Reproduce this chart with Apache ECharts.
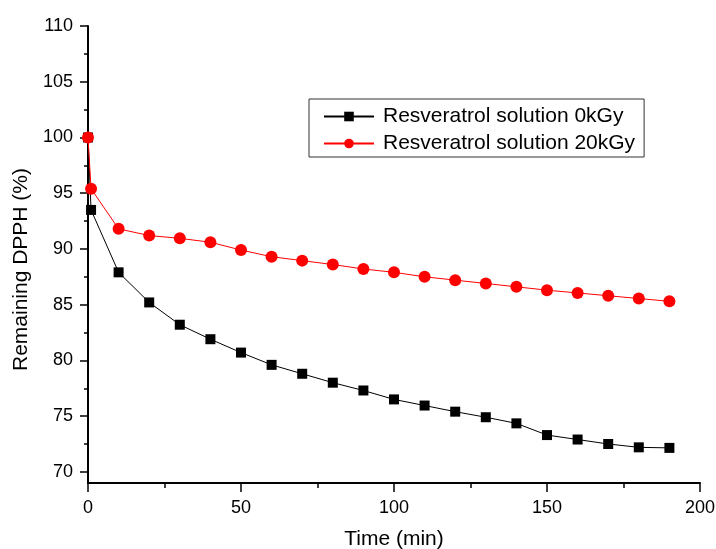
<!DOCTYPE html>
<html>
<head>
<meta charset="utf-8">
<script src="https://cdn.jsdelivr.net/npm/echarts@6/dist/echarts.min.js"></script>
<style>
    html, body {margin: 0; padding: 0; background: #fff;}
    #chart {width: 716px; height: 549px;}
</style>
</head>
<body>
<div id="chart"></div>
<script>
// 时间 (min)
var times = [0, 1, 10, 20, 30, 40, 50, 60, 70, 80, 90, 100, 110, 120, 130, 140, 150, 160, 170, 180, 190];
// 0kGy
var dpph0 = [100, 93.5, 87.9, 85.2, 83.2, 81.9, 80.7, 79.6, 78.8, 78.0, 77.3, 76.5, 75.95, 75.4, 74.9, 74.35, 73.3, 72.9, 72.5, 72.2, 72.15];
// 20kGy
var dpph20 = [100, 95.4, 91.8, 91.2, 90.95, 90.6, 89.9, 89.3, 88.95, 88.6, 88.2, 87.9, 87.5, 87.2, 86.9, 86.6, 86.3, 86.05, 85.8, 85.55, 85.3];
var yMajor = [70, 75, 80, 85, 90, 95, 100, 105, 110];
var yMinor = [72.5, 77.5, 82.5, 87.5, 92.5, 97.5, 102.5, 107.5];
var seriesNames = ['Resveratrol solution 0kGy', 'Resveratrol solution 20kGy'];

function pairs(xs, ys) {
    return xs.map(function (x, i) { return [x, ys[i]]; });
}

var font = "'Liberation Sans', Arial, sans-serif";
var chart = echarts.init(document.getElementById('chart'));

var option = {
    backgroundColor: '#fff',
    animation: false,
    textStyle: {fontFamily: font},
    grid: {left: 88, right: 16, top: 26, bottom: 66, containLabel: false, outerBoundsMode: 'none'},
    legend: {
        orient: 'vertical',
        left: 309,
        top: 99,
        padding: [7, 9, 3, 14],
        itemWidth: 50,
        itemHeight: 12,
        itemGap: 6,
        borderColor: '#333',
        borderWidth: 1,
        textStyle: {fontFamily: font, fontSize: 21, color: '#000', lineHeight: 21, padding: [0, 0, 0, 4]},
        data: seriesNames
    },
    xAxis: {
        type: 'value',
        min: 0,
        max: 200,
        interval: 50,
        name: 'Time (min)',
        nameLocation: 'middle',
        nameGap: 46,
        nameTextStyle: {fontFamily: font, fontSize: 21, color: '#000'},
        axisLine: {show: true, onZero: false, lineStyle: {color: '#000', width: 2}},
        axisTick: {show: true, inside: false, length: 9, lineStyle: {color: '#000', width: 1.5}},
        minorTick: {show: true, splitNumber: 2, length: 5, lineStyle: {color: '#000', width: 1.5}},
        axisLabel: {fontFamily: font, fontSize: 18, color: '#000', margin: 16},
        splitLine: {show: false}
    },
    yAxis: [{
        type: 'value',
        min: 69,
        max: 110,
        name: 'Remaining DPPH (%)',
        nameLocation: 'middle',
        nameGap: 55,
        nameRotate: 90,
        nameTextStyle: {fontFamily: font, fontSize: 21, color: '#000', padding: [0, 30, 0, 0]},
        axisLine: {show: true, onZero: false, lineStyle: {color: '#000', width: 2}},
        axisTick: {show: true, inside: false, length: 8, customValues: yMajor, lineStyle: {color: '#000', width: 1.5}},
        axisLabel: {fontFamily: font, fontSize: 18, color: '#000', margin: 15, customValues: yMajor},
        splitLine: {show: false}
    }, {
        type: 'value',
        min: 69,
        max: 110,
        position: 'left',
        axisLine: {show: false},
        axisTick: {show: true, inside: false, length: 4, customValues: yMinor, lineStyle: {color: '#000', width: 1.5}},
        axisLabel: {show: false},
        splitLine: {show: false}
    }],
    series: [{
        name: seriesNames[0],
        type: 'line',
        data: pairs(times, dpph0),
        symbol: 'rect',
        symbolSize: 10,
        itemStyle: {color: '#000'},
        lineStyle: {color: '#000', width: 1}
    }, {
        name: seriesNames[1],
        type: 'line',
        data: pairs(times, dpph20),
        symbol: 'circle',
        symbolSize: 12,
        itemStyle: {color: '#ff0000'},
        lineStyle: {color: '#ff0000', width: 1}
    }]
};

chart.setOption(option);
</script>
</body>
</html>
